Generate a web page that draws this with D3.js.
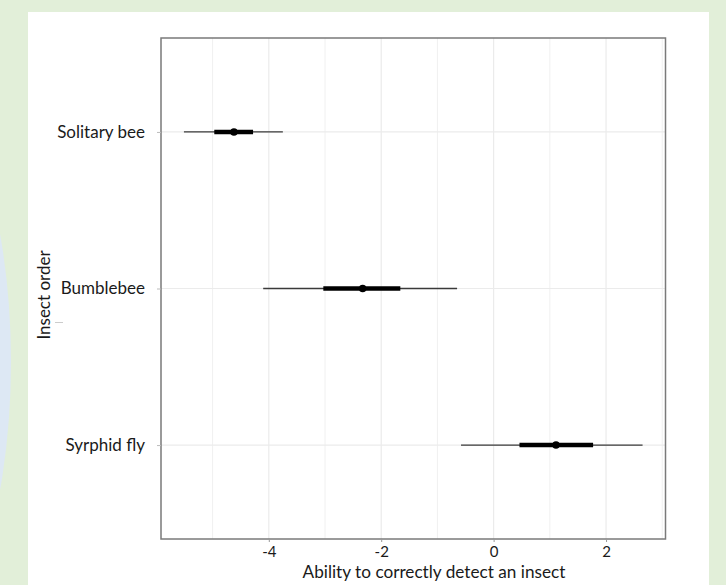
<!DOCTYPE html>
<html lang="en">
  <head>
    <meta charset="UTF-8" />
    <title>Insect order detection ability</title>
    <script src="https://d3js.org/d3.v7.min.js"></script>
    <style>
      body {
        margin: 0;
        padding: 0;
        background-color: #e2efd9;
        font-family: Lato, "Open Sans", sans-serif;
      }
      svg {
        display: block;
      }
    </style>
  </head>
  <body>
    <div id="chart"></div>

    <script>
      const width = 726;
      const height = 585;

      // values
      const categories = ["Solitary bee", "Bumblebee", "Syrphid fly"];
      const medians = [-4.62, -2.33, 1.11];
      const innerLow = [-4.97, -3.03, 0.46];
      const innerHigh = [-4.28, -1.66, 1.77];
      const outerLow = [-5.51, -4.1, -0.58];
      const outerHigh = [-3.75, -0.65, 2.65];
      const xTicks = [-4, -2, 0, 2];
      const xMinor = [-5, -3, -1, 1, 3];

      const panel = { left: 161, right: 665.5, top: 38, bottom: 539 };
      const font = "Lato, 'Open Sans', sans-serif";

      const svg = d3
        .select("#chart")
        .append("svg")
        .attr("width", width)
        .attr("height", height);

      // page background pieces
      svg
        .append("rect")
        .attr("width", width)
        .attr("height", height)
        .attr("fill", "#e2efd9");
      svg
        .append("ellipse")
        .attr("cx", -100)
        .attr("cy", 362)
        .attr("rx", 111)
        .attr("ry", 295)
        .attr("fill", "#dde8f4");
      svg
        .append("rect")
        .attr("x", 28)
        .attr("y", 12)
        .attr("width", 681)
        .attr("height", height - 12)
        .attr("fill", "#ffffff");

      // ggplot-like 5% expansion of the data range
      const lo = d3.min(outerLow);
      const hi = d3.max(outerHigh);
      const pad = (hi - lo) * 0.05;
      const x = d3
        .scaleLinear()
        .domain([lo - pad, hi + pad])
        .range([panel.left, panel.right]);

      const y = d3
        .scalePoint()
        .domain(categories)
        .range([panel.top, panel.bottom])
        .padding(0.6);

      const grid = svg.append("g");
      grid
        .selectAll("line.minor")
        .data(xMinor)
        .enter()
        .append("line")
        .attr("x1", (d) => x(d))
        .attr("x2", (d) => x(d))
        .attr("y1", panel.top)
        .attr("y2", panel.bottom)
        .attr("stroke", "#f0f0f0")
        .attr("stroke-width", 1);
      grid
        .selectAll("line.major")
        .data(xTicks)
        .enter()
        .append("line")
        .attr("x1", (d) => x(d))
        .attr("x2", (d) => x(d))
        .attr("y1", panel.top)
        .attr("y2", panel.bottom)
        .attr("stroke", "#ebebeb")
        .attr("stroke-width", 1.2);
      grid
        .selectAll("line.hmajor")
        .data(categories)
        .enter()
        .append("line")
        .attr("x1", panel.left)
        .attr("x2", panel.right)
        .attr("y1", (d) => y(d))
        .attr("y2", (d) => y(d))
        .attr("stroke", "#ebebeb")
        .attr("stroke-width", 1.2);

      // intervals
      const marks = svg
        .selectAll("g.interval")
        .data(categories)
        .enter()
        .append("g")
        .attr("class", "interval");
      marks
        .append("line")
        .attr("x1", (d, i) => x(outerLow[i]))
        .attr("x2", (d, i) => x(outerHigh[i]))
        .attr("y1", (d) => y(d))
        .attr("y2", (d) => y(d))
        .attr("stroke", "#3a3a3a")
        .attr("stroke-width", 1.3);
      marks
        .append("line")
        .attr("x1", (d, i) => x(innerLow[i]))
        .attr("x2", (d, i) => x(innerHigh[i]))
        .attr("y1", (d) => y(d))
        .attr("y2", (d) => y(d))
        .attr("stroke", "#000")
        .attr("stroke-width", 4.6);
      marks
        .append("circle")
        .attr("cx", (d, i) => x(medians[i]))
        .attr("cy", (d) => y(d))
        .attr("r", 3.8)
        .attr("fill", "#000");

      // panel border
      svg
        .append("rect")
        .attr("x", panel.left)
        .attr("y", panel.top)
        .attr("width", panel.right - panel.left)
        .attr("height", panel.bottom - panel.top)
        .attr("fill", "none")
        .attr("stroke", "#7a7a7a")
        .attr("stroke-width", 1.5);

      // axes (plain hyphen for negatives, like the original)
      const xAxis = svg
        .append("g")
        .attr("transform", `translate(0,${panel.bottom})`)
        .call(
          d3
            .axisBottom(x)
            .tickValues(xTicks)
            .tickSize(3)
            .tickPadding(4)
            .tickFormat((d) => String(d))
        );
      xAxis.select(".domain").remove();
      xAxis.selectAll(".tick line").attr("stroke", "#999");
      xAxis
        .selectAll(".tick text")
        .attr("font-family", font)
        .attr("font-size", "15px")
        .attr("fill", "#1a1a1a");

      const yAxis = svg
        .append("g")
        .attr("transform", `translate(${panel.left},0)`)
        .call(d3.axisLeft(y).tickSize(4).tickPadding(12));
      yAxis.select(".domain").remove();
      yAxis.selectAll(".tick line").attr("stroke", "#bbb");
      yAxis
        .selectAll(".tick text")
        .attr("font-family", font)
        .attr("font-size", "17px")
        .attr("fill", "#1a1a1a");

      svg
        .append("text")
        .attr("x", 434)
        .attr("y", 578)
        .attr("text-anchor", "middle")
        .attr("font-family", font)
        .attr("font-size", "17.2px")
        .attr("fill", "#1a1a1a")
        .text("Ability to correctly detect an insect");

      svg
        .append("text")
        .attr("transform", "translate(50,295) rotate(-90)")
        .attr("text-anchor", "middle")
        .attr("font-family", font)
        .attr("font-size", "17px")
        .attr("fill", "#1a1a1a")
        .text("Insect order");

      // stray little dash next to the axis title
      svg
        .append("line")
        .attr("x1", 55)
        .attr("x2", 63)
        .attr("y1", 322.5)
        .attr("y2", 322.5)
        .attr("stroke", "#ccc")
        .attr("stroke-width", 1);
    </script>
  </body>
</html>
